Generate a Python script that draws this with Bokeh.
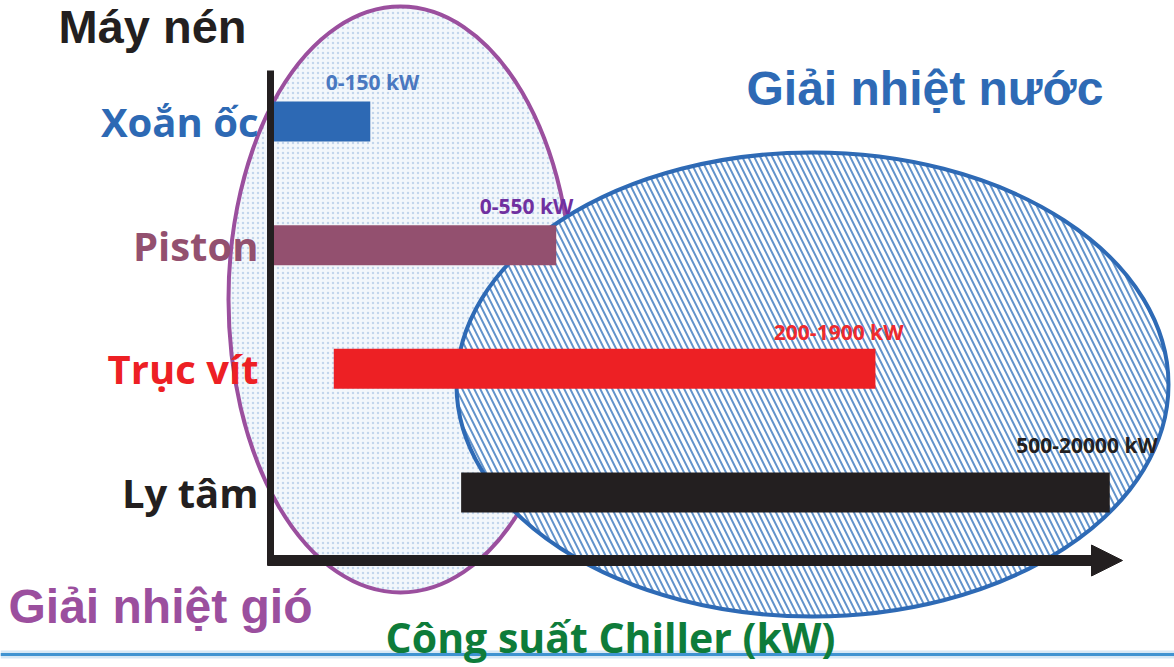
from bokeh.plotting import figure
from bokeh.models import Range1d, ColumnDataSource, Arrow, NormalHead
from bokeh.core.properties import value
from bokeh.embed import file_html
from bokeh.resources import INLINE

# ---------------------------------------------------------------- data
compressors = ["Xoắn ốc", "Piston", "Trục vít", "Ly tâm"]
range_labels = ["0-150 kW", "0-550 kW", "200-1900 kW", "500-20000 kW"]
# extent of each type on the schematic capacity axis (0 = origin, 100 = arrow tip)
bar_from = [0.0, 0.0, 7.1, 22.1]
bar_to = [11.4, 33.3, 70.9, 98.5]
rows = list(range(len(compressors)))  # 0 = top row

# ---------------------------------------------------------------- styles
bar_colors = ["#2D69B4", "#93506F", "#ED2024", "#231F20"]
name_colors = ["#2D69B4", "#93506F", "#ED2024", "#231F20"]
label_colors = ["#4A78C0", "#7030A0", "#EE2A2E", "#231F20"]
label_dx = [49, 17, 28, 48]        # px right of the bar end
label_dy = [-40, -39, -37, -48]    # px from the row centre to the label middle

W, H = 1174, 667
ORIGIN_X, TIP_X = 273, 1122        # capacity axis, px
ROW0_Y, ROW3_Y = 121, 492          # first / last row centre, px
AXIS_Y = 560

p = figure(width=W, height=H, x_range=Range1d(0, W), y_range=Range1d(H, 0),
           output_backend="svg", toolbar_location=None, min_border=0,
           x_axis_location=None, y_axis_location=None,
           outline_line_color=None, background_fill_color="white",
           border_fill_color="white")
p.grid.visible = False

# data ranges laid over the pixel frame
cap_per_px = 100.0 / (TIP_X - ORIGIN_X)
p.extra_x_ranges = {"cap": Range1d(-ORIGIN_X * cap_per_px, (W - ORIGIN_X) * cap_per_px)}
row_per_px = 3.0 / (ROW3_Y - ROW0_Y)
p.extra_y_ranges = {"row": Range1d((H - ROW0_Y) * row_per_px, -ROW0_Y * row_per_px)}

# footer rule
p.line(x=[0, W], y=[654, 654], line_color="#D6E8F5", line_width=8)
p.line(x=[0, W], y=[654, 654], line_color="#3F93D1", line_width=3)

# air-cooled region (dotted) and water-cooled region (hatched)
p.ellipse(x=[400], y=[299], width=[344], height=[586],
          fill_color="#F3F7FB", hatch_pattern="dot", hatch_color="#C3D6EC",
          hatch_scale=5, hatch_weight=1.0,
          line_color="#9B4F9E", line_width=4)
p.ellipse(x=[812], y=[384], width=[712], height=[464],
          fill_color="white", hatch_pattern="left_diagonal_line",
          hatch_color="#6293CB", hatch_scale=12, hatch_weight=2.0,
          line_color="#2E6AB5", line_width=4)

src = ColumnDataSource(dict(row=rows, left=bar_from, right=bar_to,
                            color=bar_colors, label=range_labels,
                            lcolor=label_colors, dx=label_dx, dy=label_dy,
                            name=compressors, ncolor=name_colors,
                            nx=[258] * len(rows)))

p.hbar(y="row", left="left", right="right", height=0.323,
       fill_color="color", line_color=None, source=src,
       x_range_name="cap", y_range_name="row")

# axes of the diagram
p.segment(x0=[270], y0=[70], x1=[270], y1=[AXIS_Y + 5], line_color="#231F20",
          line_width=7)
p.add_layout(Arrow(end=NormalHead(size=31, fill_color="#231F20", line_color="#231F20"),
                   x_start=267, y_start=AXIS_Y, x_end=TIP_X, y_end=AXIS_Y,
                   line_color="#231F20", line_width=11))

# range labels above the bars
p.text(x="right", y="row", text="label", text_color="lcolor",
       x_offset="dx", y_offset="dy", text_align="right",
       text_baseline="middle", text_font=value("Open Sans"),
       text_font_style="bold", text_font_size="21px", source=src,
       x_range_name="cap", y_range_name="row")

# compressor names
p.text(x="nx", y="row", text="name", text_color="ncolor",
       text_align="right", text_baseline="middle",
       text_font=value("Open Sans"), text_font_style="bold",
       text_font_size="40px", source=src, y_range_name="row")

# titles
def title(x, y, txt, color, size, font="Liberation Sans", align="left"):
    p.text(x=[x], y=[y], text=[txt], text_color=color, text_align=align,
           text_baseline="middle", text_font=value(font),
           text_font_style="bold", text_font_size=size)

title(58, 26, "Máy nén", "#231F20", "47px")
title(746, 88, "Giải nhiệt nước", "#2E6AB5", "48px")
title(8, 606, "Giải nhiệt gió", "#9B4F9E", "48px")
title(610, 636, "Công suất Chiller (kW)", "#0E7C3A", "41px", font="Open Sans",
      align="center")

open("out.html", "w").write(file_html(p, INLINE))
